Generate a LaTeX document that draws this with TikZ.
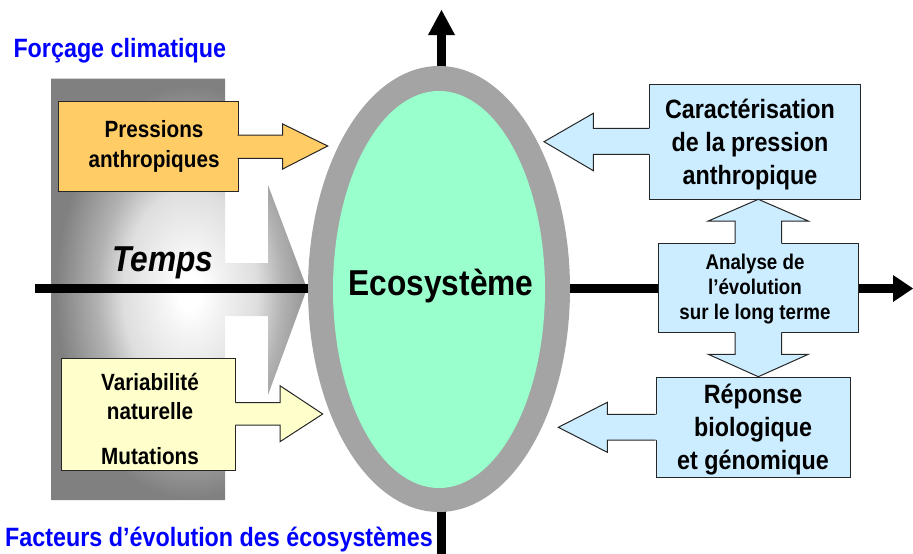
\documentclass[tikz,border=0pt]{standalone}
\usepackage{fontspec}
\setmainfont{Liberation Sans}[FakeStretch=0.88]
\usetikzlibrary{shapes.geometric}
\definecolor{gshade}{HTML}{808080}
\definecolor{gA}{HTML}{F4F4F4}
\definecolor{gB}{HTML}{DEDEDE}
\definecolor{gC}{HTML}{B2B2B2}
\definecolor{ringgray}{HTML}{A4A4A4}
\definecolor{ecogreen}{HTML}{99FFCC}
\definecolor{orangebox}{HTML}{FFCC66}
\definecolor{yellowbox}{HTML}{FFFFCC}
\definecolor{bluebox}{HTML}{CCECFF}
\definecolor{titleblue}{HTML}{0000FF}
\definecolor{edge}{HTML}{262626}
\pgfdeclareradialshading{grayrad}{\pgfpointorigin}{color(0bp)=(white); color(1bp)=(white); color(2.5bp)=(gA); color(6bp)=(gB); color(8.25bp)=(gC); color(12bp)=(gshade); color(50bp)=(gshade)}
\begin{document}
\begin{tikzpicture}[x=1pt,y=-1pt,
  box/.style={draw=edge, line width=1pt, inner sep=0pt, anchor=north west},
  outl/.style={draw=edge, line width=1pt, line join=miter},
  title/.style={text=titleblue, inner sep=0pt, font={\fontsize{26.5}{30}\selectfont\bfseries}},
  smalltxt/.style={inner sep=0pt, align=center, font={\fontsize{23.5}{29.3}\selectfont\bfseries}},
  bigtxt/.style={inner sep=0pt, align=center, font={\fontsize{26.5}{32.7}\selectfont\bfseries}},
  midtxt/.style={inner sep=0pt, align=center, font={\fontsize{21.3}{25}\selectfont\bfseries}},
  axis/.style={line width=8.5pt}
]
\useasboundingbox (0,0) rectangle (913,554);

% grey time arrow with gradient
\begin{scope}
  \clip (51,78.5) -- (225,78.5) -- (225,263) -- (268,263) -- (268,185) -- (307,288.5)
        -- (268,395) -- (268,316) -- (225,316) -- (225,500) -- (51,500) -- cycle;
  \shade[shading=grayrad] (190,292) ellipse [x radius=280pt, y radius=430pt];
\end{scope}

% axes
\coordinate (hl) at (35,288.5);
\coordinate (hr) at (893,288.5);
\coordinate (htip) at (913,288.5);
\coordinate (vb) at (441.5,554);
\coordinate (vt) at (441.5,35);
\coordinate (vtip) at (441.5,10);
\draw[axis] (hl) -- (hr);
\fill ([yshift=13.5pt]hr) -- (htip) -- ([yshift=-13.5pt]hr) -- cycle;
\draw[line width=9pt] (vb) -- (vt);
\fill ([xshift=-13.5pt]vt) -- (vtip) -- ([xshift=13.5pt]vt) -- cycle;

% ecosystem ellipse
\node[ellipse, fill=ringgray, inner sep=0pt, minimum width=262pt, minimum height=446pt] (ecoout) at (439,289) {};
\node[ellipse, fill=ecogreen, inner sep=0pt, minimum width=212pt, minimum height=397pt] (ecoin) at (439,289.5) {};
\node[inner sep=0pt, anchor=base, font={\fontsize{36}{40}\selectfont\bfseries}] (ecotxt) at (441,295) {Ecosystème};

% Temps
\node[inner sep=0pt, anchor=base, font={\fontsize{36}{40}\selectfont\bfseries\itshape}] (temps) at (163,271) {Temps};

% Pressions anthropiques
\node[box, fill=orangebox, minimum width=179.4pt, minimum height=90.3pt] (pa) at (58.3,101) {};
\fill[orangebox] (236.5,135) -- (282.7,135) -- (282.7,124) -- (327.7,146) -- (282.7,169) -- (282.7,158.3) -- (236.5,158.3) -- cycle;
\draw[outl] (237.7,135) -- (282.7,135) -- (282.7,124) -- (327.7,146) -- (282.7,169) -- (282.7,158.3) -- (237.7,158.3);
\node[smalltxt] (patxt) at (154,146.4) {Pressions\\anthropiques};

% Variabilite naturelle
\node[box, fill=yellowbox, minimum width=174.6pt, minimum height=112.3pt] (vn) at (60.7,357.7) {};
\fill[yellowbox] (234.1,402.7) -- (280,402.7) -- (280,385.7) -- (322.7,414) -- (280,441.7) -- (280,425) -- (234.1,425) -- cycle;
\draw[outl] (235.3,402.7) -- (280,402.7) -- (280,385.7) -- (322.7,414) -- (280,441.7) -- (280,425) -- (235.3,425);
\node[smalltxt] (vntxt) at (150,418.9) {Variabilité\\naturelle\\[15pt]Mutations};

% Caracterisation
\node[box, fill=bluebox, minimum width=211pt, minimum height=115pt] (cp) at (649,84.3) {};
\fill[bluebox] (650.2,128.3) -- (593.3,128.3) -- (593.3,113.3) -- (544,141.7) -- (593.3,170.7) -- (593.3,154.3) -- (650.2,154.3) -- cycle;
\draw[outl] (649,128.3) -- (593.3,128.3) -- (593.3,113.3) -- (544,141.7) -- (593.3,170.7) -- (593.3,154.3) -- (649,154.3);
\node[bigtxt] (cptxt) at (750,144.7) {Caractérisation\\de la pression\\anthropique};

% Reponse
\node[box, fill=bluebox, minimum width=194.3pt, minimum height=100pt] (rb) at (655.7,377.3) {};
\fill[bluebox] (656.9,414.3) -- (607.3,414.3) -- (607.3,402.3) -- (558.3,427.3) -- (607.3,452.3) -- (607.3,440) -- (656.9,440) -- cycle;
\draw[outl] (655.7,414.3) -- (607.3,414.3) -- (607.3,402.3) -- (558.3,427.3) -- (607.3,452.3) -- (607.3,440) -- (655.7,440);
\node[bigtxt] (rbtxt) at (753,429.7) {Réponse\\biologique\\et génomique};

% Analyse
\node[box, fill=bluebox, minimum width=200pt, minimum height=89pt] (an) at (658.3,243.3) {};
\fill[bluebox] (735,244.5) -- (735,221) -- (708.3,221) -- (758.3,199.3) -- (808.3,221) -- (781.7,221) -- (781.7,244.5) -- cycle;
\draw[outl] (735,243.3) -- (735,221) -- (708.3,221) -- (758.3,199.3) -- (808.3,221) -- (781.7,221) -- (781.7,243.3);
\fill[bluebox] (735,331.1) -- (735,354.3) -- (708.3,354.3) -- (758.3,376.7) -- (808.3,354.3) -- (781.7,354.3) -- (781.7,331.1) -- cycle;
\draw[outl] (735,332.3) -- (735,354.3) -- (708.3,354.3) -- (758.3,376.7) -- (808.3,354.3) -- (781.7,354.3) -- (781.7,332.3);
\node[midtxt] (antxt) at (755,288.8) {Analyse de\\l’évolution\\sur le long terme};

% titles
\node[title, anchor=base west] (t1) at (13.3,57.3) {Forçage climatique};
\node[title, anchor=base west] (t2) at (5,546.7) {Facteurs d’évolution des écosystèmes};
\end{tikzpicture}
\end{document}
